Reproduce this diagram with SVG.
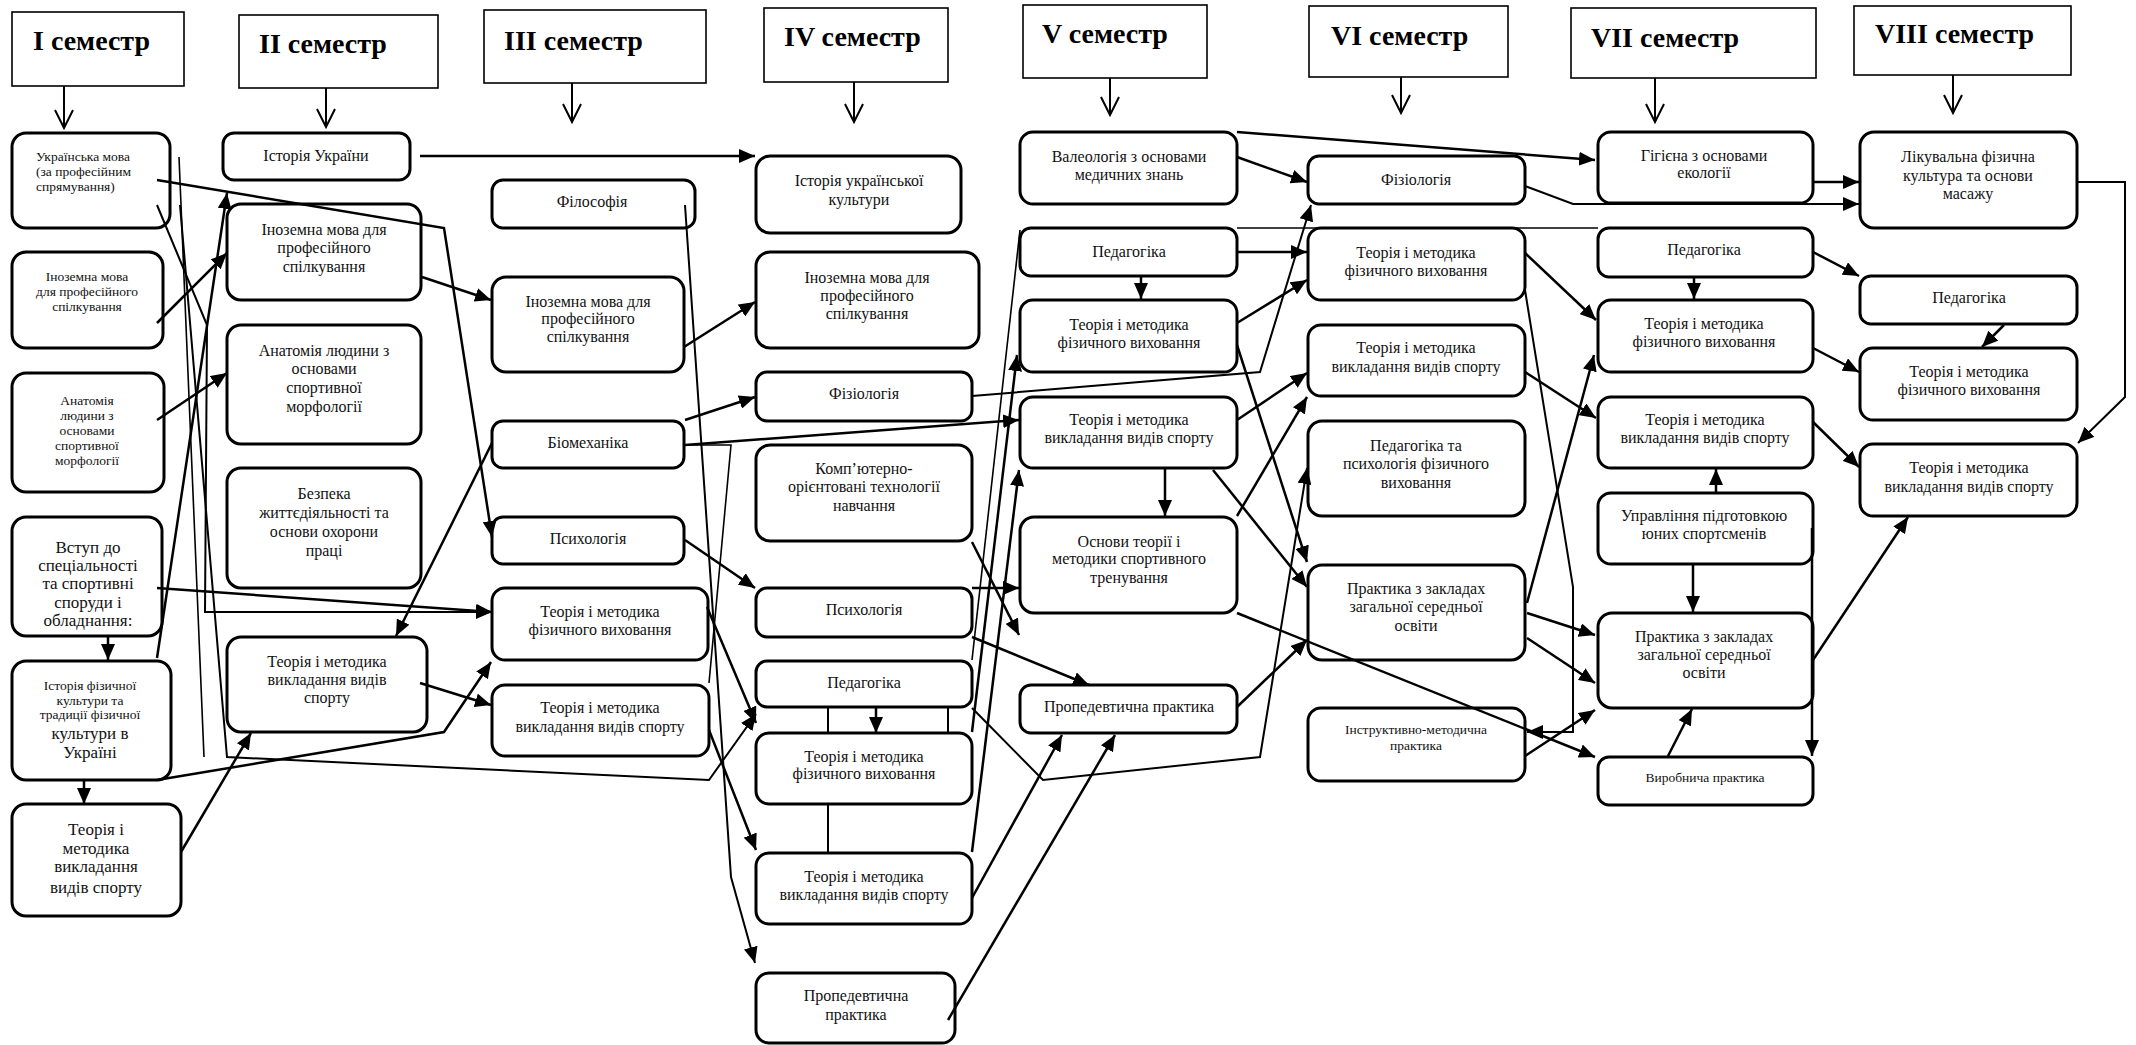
<svg xmlns="http://www.w3.org/2000/svg" width="2136" height="1045" viewBox="0 0 2136 1045">
<style>
.bg{fill:#fff}
.hdr{fill:#fff;stroke:#000;stroke-width:1.6}
.box{fill:#fff;stroke:#000;stroke-width:3}
.t{font-family:"Liberation Serif","Times New Roman",serif;font-size:16px;fill:#111;text-anchor:middle}
.s{font-size:13.5px}
.l{font-size:17px}
.st{text-anchor:start}
.h{font-family:"Liberation Serif","Times New Roman",serif;font-size:28px;font-weight:bold;fill:#000}
.c{fill:none;stroke:#000;stroke-width:2.5;marker-end:url(#ah)}
.ln{fill:none;stroke:#000;stroke-width:1.6}
.ha{fill:none;stroke:#000;stroke-width:2;marker-end:url(#oh)}
</style>
<defs>
<marker id="ah" markerUnits="userSpaceOnUse" markerWidth="16" markerHeight="14" refX="16" refY="7" orient="auto">
<path d="M0,0 L16,7 L0,14 z" fill="#000"/>
</marker>
<marker id="oh" markerUnits="userSpaceOnUse" markerWidth="22" markerHeight="24" refX="19" refY="10" orient="auto">
<path d="M1,1 L19,10 L1,19" fill="none" stroke="#000" stroke-width="2"/>
</marker>
</defs>
<rect class="bg" x="0" y="0" width="2136" height="1045"/>

<g id="headers">
<g id="h1"><rect class="hdr" x="12" y="12" width="172" height="74"/><text class="h" x="33" y="50">I семестр</text></g>
<g id="h2"><rect class="hdr" x="239" y="15" width="199" height="73"/><text class="h" x="259" y="53">II семестр</text></g>
<g id="h3"><rect class="hdr" x="484" y="10" width="222" height="73"/><text class="h" x="504" y="50">III семестр</text></g>
<g id="h4"><rect class="hdr" x="764" y="8" width="184" height="74"/><text class="h" x="784" y="46">IV семестр</text></g>
<g id="h5"><rect class="hdr" x="1023" y="5" width="184" height="73"/><text class="h" x="1042" y="43">V семестр</text></g>
<g id="h6"><rect class="hdr" x="1309" y="6" width="199" height="71"/><text class="h" x="1331" y="45">VI семестр</text></g>
<g id="h7"><rect class="hdr" x="1571" y="8" width="245" height="70"/><text class="h" x="1591" y="47">VII семестр</text></g>
<g id="h8"><rect class="hdr" x="1854" y="6" width="217" height="69"/><text class="h" x="1875" y="43">VIII семестр</text></g>
</g>

<g id="nodes">
<g id="n1"><rect class="box" x="12" y="133" width="158" height="95" rx="14"/><text class="t s st"><tspan x="36" y="161">Українська мова</tspan><tspan x="36" y="176">(за професійним</tspan><tspan x="36" y="191">спрямування)</tspan></text></g>
<g id="n2"><rect class="box" x="12" y="252" width="151" height="96" rx="14"/><text class="t s"><tspan x="87" y="281">Іноземна мова</tspan><tspan x="87" y="296">для професійного</tspan><tspan x="87" y="311">спілкування</tspan></text></g>
<g id="n3"><rect class="box" x="12" y="373" width="152" height="119" rx="14"/><text class="t s"><tspan x="87" y="405">Анатомія</tspan><tspan x="87" y="420">людини з</tspan><tspan x="87" y="435">основами</tspan><tspan x="87" y="450">спортивної</tspan><tspan x="87" y="465">морфології</tspan></text></g>
<g id="n4"><rect class="box" x="12" y="517" width="150" height="119" rx="14"/><text class="t l"><tspan x="88" y="553">Вступ до</tspan><tspan x="88" y="571">спеціальності</tspan><tspan x="88" y="589">та спортивні</tspan><tspan x="88" y="608">споруди і</tspan><tspan x="88" y="626">обладнання:</tspan></text></g>
<g id="n5"><rect class="box" x="12" y="661" width="159" height="119" rx="14"/><text class="t s"><tspan x="90" y="690">Історія фізичної</tspan><tspan x="90" y="705">культури та</tspan><tspan x="90" y="719">традиції фізичної</tspan></text><text class="t l"><tspan x="90" y="739">культури в</tspan><tspan x="90" y="758">Україні</tspan></text></g>
<g id="n6"><rect class="box" x="12" y="804" width="169" height="112" rx="14"/><text class="t l"><tspan x="96" y="835">Теорія і</tspan><tspan x="96" y="854">методика</tspan><tspan x="96" y="872">викладання</tspan><tspan x="96" y="893">видів спорту</tspan></text></g>

<g id="n7"><rect class="box" x="223" y="133" width="187" height="47" rx="11"/><text class="t" x="316" y="161">Історія України</text></g>
<g id="n8"><rect class="box" x="227" y="204" width="194" height="96" rx="14"/><text class="t"><tspan x="324" y="235">Іноземна мова для</tspan><tspan x="324" y="253">професійного</tspan><tspan x="324" y="272">спілкування</tspan></text></g>
<g id="n9"><rect class="box" x="227" y="325" width="194" height="119" rx="14"/><text class="t"><tspan x="324" y="356">Анатомія людини з</tspan><tspan x="324" y="374">основами</tspan><tspan x="324" y="393">спортивної</tspan><tspan x="324" y="412">морфології</tspan></text></g>
<g id="n10"><rect class="box" x="227" y="468" width="194" height="120" rx="14"/><text class="t"><tspan x="324" y="499">Безпека</tspan><tspan x="324" y="518">життєдіяльності та</tspan><tspan x="324" y="537">основи охорони</tspan><tspan x="324" y="556">праці</tspan></text></g>
<g id="n11"><rect class="box" x="227" y="637" width="200" height="95" rx="14"/><text class="t"><tspan x="327" y="667">Теорія і методика</tspan><tspan x="327" y="685">викладання видів</tspan><tspan x="327" y="703">спорту</tspan></text></g>

<g id="n12"><rect class="box" x="492" y="180" width="203" height="48" rx="11"/><text class="t" x="592" y="207">Філософія</text></g>
<g id="n13"><rect class="box" x="492" y="277" width="192" height="95" rx="14"/><text class="t"><tspan x="588" y="307">Іноземна мова для</tspan><tspan x="588" y="324">професійного</tspan><tspan x="588" y="342">спілкування</tspan></text></g>
<g id="n14"><rect class="box" x="492" y="421" width="192" height="47" rx="11"/><text class="t" x="588" y="448">Біомеханіка</text></g>
<g id="n15"><rect class="box" x="492" y="517" width="192" height="47" rx="11"/><text class="t" x="588" y="544">Психологія</text></g>
<g id="n16"><rect class="box" x="492" y="588" width="216" height="72" rx="13"/><text class="t"><tspan x="600" y="617">Теорія і методика</tspan><tspan x="600" y="635">фізичного виховання</tspan></text></g>
<g id="n17"><rect class="box" x="492" y="685" width="217" height="71" rx="13"/><text class="t"><tspan x="600" y="713">Теорія і методика</tspan><tspan x="600" y="732">викладання видів спорту</tspan></text></g>

<g id="n18"><rect class="box" x="756" y="156" width="205" height="77" rx="14"/><text class="t"><tspan x="859" y="186">Історія української</tspan><tspan x="859" y="205">культури</tspan></text></g>
<g id="n19"><rect class="box" x="756" y="252" width="223" height="96" rx="14"/><text class="t"><tspan x="867" y="283">Іноземна мова для</tspan><tspan x="867" y="301">професійного</tspan><tspan x="867" y="319">спілкування</tspan></text></g>
<g id="n20"><rect class="box" x="756" y="372" width="216" height="49" rx="11"/><text class="t" x="864" y="399">Фізіологія</text></g>
<g id="n21"><rect class="box" x="756" y="445" width="216" height="96" rx="14"/><text class="t"><tspan x="864" y="474">Комп’ютерно-</tspan><tspan x="864" y="492">орієнтовані технології</tspan><tspan x="864" y="511">навчання</tspan></text></g>
<g id="n22"><rect class="box" x="756" y="588" width="216" height="49" rx="11"/><text class="t" x="864" y="615">Психологія</text></g>
<g id="n23"><rect class="box" x="756" y="661" width="216" height="46" rx="11"/><text class="t" x="864" y="688">Педагогіка</text></g>
<g id="n24"><rect class="box" x="756" y="733" width="216" height="71" rx="13"/><text class="t"><tspan x="864" y="762">Теорія і методика</tspan><tspan x="864" y="779">фізичного виховання</tspan></text></g>
<g id="n25"><rect class="box" x="756" y="853" width="216" height="71" rx="13"/><text class="t"><tspan x="864" y="882">Теорія і методика</tspan><tspan x="864" y="900">викладання видів спорту</tspan></text></g>
<g id="n26"><rect class="box" x="756" y="973" width="199" height="70" rx="13"/><text class="t"><tspan x="856" y="1001">Пропедевтична</tspan><tspan x="856" y="1020">практика</tspan></text></g>

<g id="n27"><rect class="box" x="1020" y="132" width="217" height="72" rx="13"/><text class="t"><tspan x="1129" y="162">Валеологія з основами</tspan><tspan x="1129" y="180">медичних знань</tspan></text></g>
<g id="n28"><rect class="box" x="1020" y="228" width="217" height="48" rx="11"/><text class="t" x="1129" y="257">Педагогіка</text></g>
<g id="n29"><rect class="box" x="1020" y="300" width="217" height="72" rx="13"/><text class="t"><tspan x="1129" y="330">Теорія і методика</tspan><tspan x="1129" y="348">фізичного виховання</tspan></text></g>
<g id="n30"><rect class="box" x="1020" y="397" width="217" height="71" rx="13"/><text class="t"><tspan x="1129" y="425">Теорія і методика</tspan><tspan x="1129" y="443">викладання видів спорту</tspan></text></g>
<g id="n31"><rect class="box" x="1020" y="517" width="217" height="96" rx="14"/><text class="t"><tspan x="1129" y="547">Основи теорії і</tspan><tspan x="1129" y="564">методики спортивного</tspan><tspan x="1129" y="583">тренування</tspan></text></g>
<g id="n32"><rect class="box" x="1020" y="685" width="217" height="48" rx="11"/><text class="t" x="1129" y="712">Пропедевтична практика</text></g>

<g id="n33"><rect class="box" x="1308" y="156" width="217" height="48" rx="11"/><text class="t" x="1416" y="185">Фізіологія</text></g>
<g id="n34"><rect class="box" x="1308" y="228" width="217" height="72" rx="13"/><text class="t"><tspan x="1416" y="258">Теорія і методика</tspan><tspan x="1416" y="276">фізичного виховання</tspan></text></g>
<g id="n35"><rect class="box" x="1308" y="325" width="217" height="71" rx="13"/><text class="t"><tspan x="1416" y="353">Теорія і методика</tspan><tspan x="1416" y="372">викладання видів спорту</tspan></text></g>
<g id="n36"><rect class="box" x="1308" y="421" width="217" height="95" rx="14"/><text class="t"><tspan x="1416" y="451">Педагогіка та</tspan><tspan x="1416" y="469">психологія фізичного</tspan><tspan x="1416" y="488">виховання</tspan></text></g>
<g id="n37"><rect class="box" x="1308" y="565" width="217" height="95" rx="14"/><text class="t"><tspan x="1416" y="594">Практика з закладах</tspan><tspan x="1416" y="612">загальної середньої</tspan><tspan x="1416" y="631">освіти</tspan></text></g>
<g id="n38"><rect class="box" x="1308" y="708" width="217" height="73" rx="13"/><text class="t s"><tspan x="1416" y="734">Інструктивно-методична</tspan><tspan x="1416" y="750">практика</tspan></text></g>

<g id="n39"><rect class="box" x="1598" y="132" width="215" height="71" rx="13"/><text class="t"><tspan x="1704" y="161">Гігієна з основами</tspan><tspan x="1704" y="178">екології</tspan></text></g>
<g id="n40"><rect class="box" x="1598" y="228" width="215" height="49" rx="11"/><text class="t" x="1704" y="255">Педагогіка</text></g>
<g id="n41"><rect class="box" x="1598" y="300" width="215" height="72" rx="13"/><text class="t"><tspan x="1704" y="329">Теорія і методика</tspan><tspan x="1704" y="347">фізичного виховання</tspan></text></g>
<g id="n42"><rect class="box" x="1598" y="397" width="215" height="71" rx="13"/><text class="t"><tspan x="1705" y="425">Теорія і методика</tspan><tspan x="1705" y="443">викладання видів спорту</tspan></text></g>
<g id="n43"><rect class="box" x="1598" y="493" width="215" height="71" rx="13"/><text class="t"><tspan x="1704" y="521">Управління підготовкою</tspan><tspan x="1704" y="539">юних спортсменів</tspan></text></g>
<g id="n44"><rect class="box" x="1598" y="613" width="215" height="95" rx="14"/><text class="t"><tspan x="1704" y="642">Практика з закладах</tspan><tspan x="1704" y="660">загальної середньої</tspan><tspan x="1704" y="678">освіти</tspan></text></g>
<g id="n45"><rect class="box" x="1598" y="757" width="215" height="48" rx="11"/><text class="t s" x="1705" y="782">Виробнича практика</text></g>

<g id="n46"><rect class="box" x="1860" y="132" width="217" height="96" rx="14"/><text class="t"><tspan x="1968" y="162">Лікувальна фізична</tspan><tspan x="1968" y="181">культура та основи</tspan><tspan x="1968" y="199">масажу</tspan></text></g>
<g id="n47"><rect class="box" x="1860" y="276" width="217" height="48" rx="11"/><text class="t" x="1969" y="303">Педагогіка</text></g>
<g id="n48"><rect class="box" x="1860" y="348" width="217" height="72" rx="13"/><text class="t"><tspan x="1969" y="377">Теорія і методика</tspan><tspan x="1969" y="395">фізичного виховання</tspan></text></g>
<g id="n49"><rect class="box" x="1860" y="444" width="217" height="72" rx="13"/><text class="t"><tspan x="1969" y="473">Теорія і методика</tspan><tspan x="1969" y="492">викладання видів спорту</tspan></text></g>
</g>

<g id="connectors">
<path class="ha" d="M64,86 V128"/>
<path class="ha" d="M326,88 V127"/>
<path class="ha" d="M572,83 V122"/>
<path class="ha" d="M854,82 V122"/>
<path class="ha" d="M1110,78 V115"/>
<path class="ha" d="M1401,77 V113"/>
<path class="ha" d="M1655,78 V122"/>
<path class="ha" d="M1953,75 V113"/>

<path class="c" d="M157,323 L227,253"/>
<path class="c" d="M157,420 L227,373"/>
<path class="c" d="M157,658 L227,193"/>
<path class="c" d="M157,588 L492,612"/>
<path class="c" style="stroke-width:2" d="M157,205 L207,325 L205,612 L492,612"/>
<path class="c" d="M108,636 V660"/>
<path class="c" d="M84,780 V804"/>
<path class="c" d="M181,852 L251,733"/>
<path class="c" d="M157,780 L444,732 L491,662"/>
<path class="c" d="M157,180 L444,228 L492,537"/>
<path class="ln" d="M179,157 L204,757"/>
<path class="c" style="stroke-width:2" d="M180,205 L227,757 L709,780 L756,714"/>
<path class="c" d="M420,156 H755"/>
<path class="c" d="M422,277 L491,300"/>
<path class="c" d="M492,443 L396,636"/>
<path class="c" d="M420,683 L491,705"/>
<path class="c" d="M684,347 L755,302"/>
<path class="c" d="M685,420 L755,397"/>
<path class="c" d="M685,445 L1019,420"/>
<path class="ln" d="M685,445 L731,445 L709,683"/>
<path class="c" style="stroke-width:2" d="M685,205 L731,877 L755,963"/>
<path class="c" d="M685,540 L755,588"/>
<path class="c" d="M707,607 L756,723"/>
<path class="c" d="M709,730 L756,850"/>
<path class="c" d="M876,707 V733"/>
<path class="ln" style="stroke-width:2" d="M828,707 V733 M948,707 V733 M828,804 V853"/>
<path class="c" style="stroke-width:2" d="M972,396 L1260,372 L1311,205"/>
<path class="c" d="M972,588 H1019"/>
<path class="c" d="M972,542 L1019,635"/>
<path class="c" d="M972,637 L1089,685"/>
<path class="c" d="M972,898 L1062,735"/>
<path class="c" d="M948,1020 L1115,735"/>
<path class="c" d="M972,732 L1017,355"/>
<path class="c" d="M972,852 L1019,470"/>
<path class="ln" d="M972,660 L1020,230"/>
<path class="c" style="stroke-width:2" d="M972,708 L1043,780 L1260,757 L1307,468"/>
<path class="c" d="M1237,132 L1595,160"/>
<path class="c" d="M1237,157 L1307,182"/>
<path class="c" d="M1237,252 H1307"/>
<path class="ln" d="M1237,228 H1598"/>
<path class="c" d="M1141,276 V299"/>
<path class="c" d="M1237,323 L1307,280"/>
<path class="c" d="M1237,345 L1307,562"/>
<path class="c" d="M1237,420 L1307,373"/>
<path class="c" d="M1165,468 V516"/>
<path class="c" d="M1213,470 L1307,587"/>
<path class="c" d="M1237,516 L1307,397"/>
<path class="c" d="M1237,613 L1595,757"/>
<path class="c" d="M1237,707 L1307,640"/>
<path class="c" style="stroke-width:2" d="M1525,186 L1573,204 H1859"/>
<path class="c" style="stroke-width:2" d="M1525,290 L1573,587 V732 H1527"/>
<path class="c" d="M1525,253 L1596,320"/>
<path class="c" d="M1525,372 L1596,418"/>
<path class="c" d="M1527,603 L1594,355"/>
<path class="c" d="M1527,613 L1595,635"/>
<path class="c" d="M1527,638 L1595,683"/>
<path class="c" d="M1525,756 L1595,710"/>
<path class="c" d="M1813,182 H1859"/>
<path class="c" style="stroke-width:2" d="M2077,182 H2125 V397 L2078,443"/>
<path class="c" d="M1813,252 L1859,276"/>
<path class="c" d="M1694,277 V299"/>
<path class="c" d="M2004,325 L1982,347"/>
<path class="c" d="M1813,348 L1859,372"/>
<path class="c" d="M1813,422 L1859,467"/>
<path class="c" d="M1716,493 V469"/>
<path class="c" d="M1693,564 V612"/>
<path class="c" d="M1813,660 L1908,517"/>
<path class="c" d="M1668,756 L1692,709"/>
<path class="c" d="M1812,528 V756"/>
</g>
</svg>
